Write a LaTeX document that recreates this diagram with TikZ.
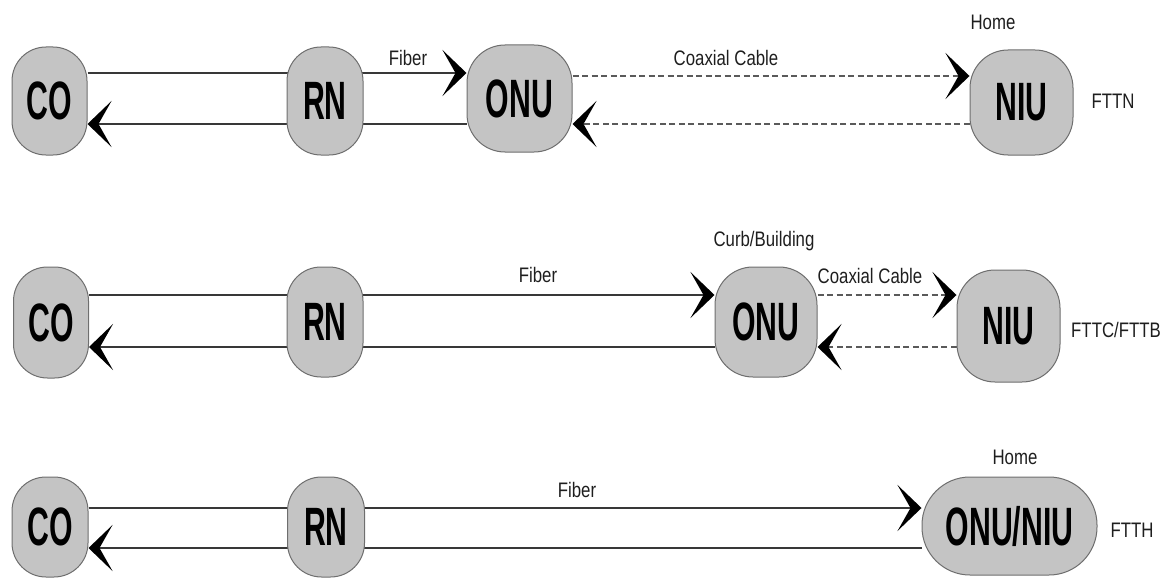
\documentclass[tikz,border=0pt]{standalone}
\usepackage{fontspec}
\setmainfont{Liberation Sans}
\newfontfamily\boxfont[FakeStretch=0.56]{Liberation Sans}
\newfontfamily\labfont[FakeStretch=0.8]{Liberation Sans}
\usetikzlibrary{arrows.meta,backgrounds}

\definecolor{boxfill}{HTML}{C4C4C4}
\definecolor{boxline}{HTML}{6E6E6E}
\definecolor{wire}{HTML}{383838}
\definecolor{coaxwire}{HTML}{5A5A5A}
\definecolor{labtext}{HTML}{1E1E1E}

\begin{document}
\begin{tikzpicture}[x=1pt,y=-1pt,
  unit/.style={draw=boxline, fill=boxfill, line width=1pt, rounded corners=34pt,
    inner sep=0pt, text=black, font=\boxfont\bfseries\fontsize{54}{56}\selectfont},
  lbl/.style={inner sep=0pt, text=labtext, font=\labfont\fontsize{21}{23}\selectfont},
  fib/.style={draw=wire, line width=2pt},
  coax/.style={draw=coaxwire, line width=2pt, dash pattern=on 6pt off 3.5pt},
  tip/.style={-{Stealth[length=24pt,width=46pt,inset=13pt,color=black]}}]

\useasboundingbox (0,0) rectangle (1170,578);

% ---------- FTTN ----------
\node[unit, minimum width=75pt, minimum height=108pt] (CO1)  at (49.5,101)  {CO};
\node[unit, minimum width=76pt, minimum height=108pt] (RN1)  at (325,101)   {RN};
\node[unit, minimum width=105pt, minimum height=107pt, rounded corners=38pt] (ONU1) at (519.5,98.5) {ONU};
\node[unit, minimum width=103pt, minimum height=105pt, rounded corners=38pt] (NIU1) at (1021.5,102.5) {NIU};

\coordinate (r1up) at (0,73);
\coordinate (r1dn) at (0,124);
\coordinate (r1cu) at (0,76);

\node[lbl] (fib1)  at (408,58)   {Fiber};
\node[lbl] (cx1)   at (726,58)   {Coaxial Cable};
\node[lbl] (home1) at (993,22)   {Home};
\node[lbl] (tag1)  at (1113,101) {FTTN};

% ---------- FTTC / FTTB ----------
\node[unit, minimum width=75pt, minimum height=111pt] (CO2)  at (51,322.5)  {CO};
\node[unit, minimum width=76pt, minimum height=110pt] (RN2)  at (325,322)   {RN};
\node[unit, minimum width=102pt, minimum height=110pt, rounded corners=38pt] (ONU2) at (766,322) {ONU};
\node[unit, minimum width=103pt, minimum height=112pt, rounded corners=38pt] (NIU2) at (1008.5,326) {NIU};

\coordinate (r2up) at (0,295);
\coordinate (r2dn) at (0,347);

\node[lbl] (fib2)  at (538,275)  {Fiber};
\node[lbl] (curb2) at (764,241)  {Curb/Building};
\node[lbl] (cx2)   at (870,276)  {Coaxial Cable};
\node[lbl] (tag2)  at (1116,330) {FTTC/FTTB};

% ---------- FTTH ----------
\node[unit, minimum width=76pt, minimum height=100pt] (CO3)  at (50,527)  {CO};
\node[unit, minimum width=77pt, minimum height=100pt] (RN3)  at (326,527) {RN};
\node[unit, minimum width=175pt, minimum height=98pt, rounded corners=48pt] (ON3) at (1009.5,526) {ONU/NIU};

\coordinate (r3up) at (0,508);
\coordinate (r3dn) at (0,548);

\node[lbl] (fib3)  at (577,490)  {Fiber};
\node[lbl] (home3) at (1015,457) {Home};
\node[lbl] (tag3)  at (1132,530) {FTTH};

% ---------- links, kept behind the boxes ----------
\begin{scope}[on background layer]
  % FTTN
  \draw[fib, tip]  (CO1.east |- r1up)  -- (ONU1.west |- r1up);
  \draw[fib, tip]  (ONU1.west |- r1dn) -- (CO1.east |- r1dn);
  \draw[coax, tip] (ONU1.east |- r1cu) -- (NIU1.west |- r1cu);
  \draw[coax, tip] (NIU1.west |- r1dn) -- (ONU1.east |- r1dn);
  % FTTC / FTTB
  \draw[fib, tip]  (CO2.east |- r2up)  -- (ONU2.west |- r2up);
  \draw[fib, tip]  (ONU2.west |- r2dn) -- (CO2.east |- r2dn);
  \draw[coax, tip] (ONU2.east |- r2up) -- (NIU2.west |- r2up);
  \draw[coax, tip] (NIU2.west |- r2dn) -- (ONU2.east |- r2dn);
  % FTTH
  \draw[fib, tip]  (CO3.east |- r3up)  -- (ON3.west |- r3up);
  \draw[fib, tip]  (ON3.west |- r3dn)  -- (CO3.east |- r3dn);
\end{scope}
\end{tikzpicture}
\end{document}
